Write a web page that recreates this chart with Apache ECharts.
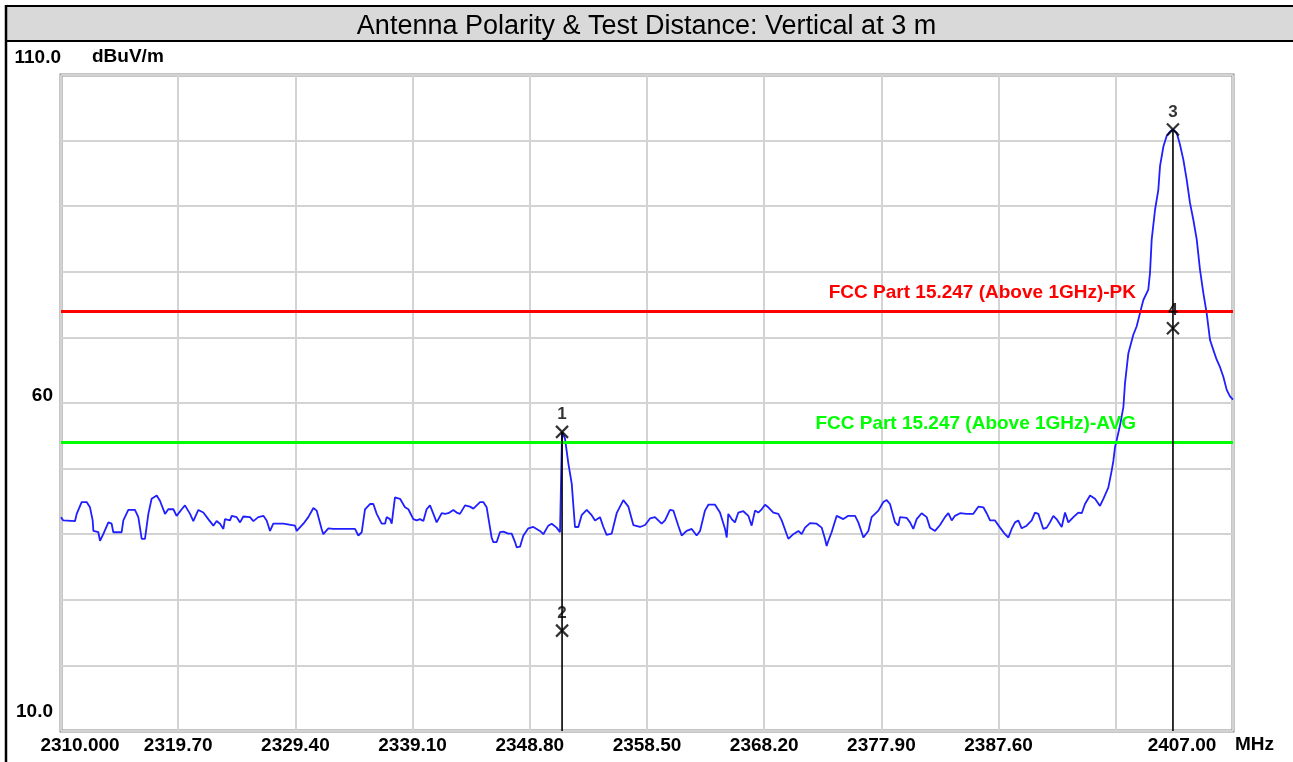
<!DOCTYPE html>
<html>
<head>
<meta charset="utf-8">
<title>Antenna Polarity & Test Distance: Vertical at 3 m</title>
<script src="https://cdn.jsdelivr.net/npm/echarts@6/dist/echarts.min.js"></script>
<style>
  html, body { margin: 0; padding: 0; background: #fff; }
  #chart { width: 1293px; height: 762px; }
</style>
</head>
<body>
<div id="chart"></div>
<script>
// scan data (MHz, dBuV/m)
const freqMHz = [
  2310.00, 2310.19, 2311.16, 2311.30, 2311.71, 2312.12, 2312.40, 2312.62, 2312.68, 2313.09,
  2313.23, 2313.50, 2313.92, 2314.19, 2314.33, 2315.02, 2315.16, 2315.57, 2316.12, 2316.40,
  2316.68, 2316.95, 2317.23, 2317.50, 2317.92, 2318.19, 2318.61, 2318.88, 2319.30, 2319.57,
  2319.99, 2320.26, 2320.68, 2320.95, 2321.37, 2321.78, 2322.19, 2322.61, 2322.88, 2323.16,
  2323.44, 2323.57, 2323.99, 2324.13, 2324.54, 2324.82, 2325.09, 2325.64, 2325.92, 2326.33,
  2326.75, 2327.02, 2327.30, 2327.57, 2328.40, 2329.37, 2329.51, 2330.06, 2330.47, 2330.89,
  2331.16, 2331.57, 2331.71, 2332.13, 2332.54, 2334.33, 2334.61, 2334.89, 2335.16, 2335.57,
  2335.85, 2336.13, 2336.54, 2336.82, 2336.95, 2337.23, 2337.37, 2337.64, 2338.06, 2338.47,
  2338.75, 2339.16, 2339.44, 2339.71, 2339.99, 2340.26, 2340.54, 2340.82, 2341.09, 2341.51,
  2341.78, 2342.06, 2342.47, 2342.75, 2343.02, 2343.44, 2343.85, 2344.13, 2344.68, 2344.95,
  2345.23, 2345.64, 2345.78, 2346.06, 2346.33, 2346.61, 2347.02, 2347.30, 2347.58, 2347.71,
  2347.99, 2348.27, 2348.68, 2349.09, 2349.64, 2349.92, 2350.33, 2350.61, 2351.02, 2351.30,
  2351.40, 2351.47, 2351.71, 2351.99, 2352.27, 2352.54, 2352.82, 2353.09, 2353.51, 2353.92,
  2354.20, 2354.61, 2354.89, 2355.16, 2355.58, 2355.99, 2356.54, 2356.96, 2357.37, 2357.92,
  2358.34, 2358.75, 2359.16, 2359.71, 2359.99, 2360.40, 2360.68, 2361.09, 2361.37, 2361.78,
  2362.20, 2362.61, 2362.89, 2363.30, 2363.58, 2364.13, 2364.54, 2364.96, 2365.10, 2365.23,
  2365.51, 2365.78, 2366.06, 2366.47, 2366.89, 2367.16, 2367.44, 2367.71, 2367.99, 2368.27,
  2368.54, 2368.96, 2369.37, 2369.65, 2370.06, 2370.20, 2370.61, 2371.03, 2371.30, 2371.58,
  2371.99, 2372.54, 2372.96, 2373.23, 2373.37, 2373.51, 2373.78, 2374.20, 2374.75, 2375.16,
  2375.72, 2375.99, 2376.41, 2376.54, 2376.82, 2377.09, 2377.65, 2378.06, 2378.34, 2378.61,
  2379.03, 2379.30, 2379.44, 2379.99, 2380.27, 2380.54, 2380.82, 2381.23, 2381.65, 2381.92,
  2382.34, 2382.75, 2383.16, 2383.44, 2383.72, 2383.99, 2384.41, 2384.96, 2385.51, 2385.92,
  2386.34, 2386.61, 2386.89, 2387.30, 2387.72, 2388.13, 2388.41, 2388.68, 2388.96, 2389.23,
  2389.51, 2389.92, 2390.34, 2390.61, 2390.89, 2391.30, 2391.58, 2391.85, 2392.13, 2392.40,
  2392.82, 2393.10, 2393.37, 2393.79, 2394.20, 2394.48, 2394.75, 2395.17, 2395.58, 2395.99,
  2396.27, 2396.68, 2396.82, 2396.96, 2397.10, 2397.24, 2397.37, 2397.65, 2397.93, 2398.06,
  2398.34, 2398.75, 2399.03, 2399.30, 2399.58, 2399.99, 2400.13, 2400.27, 2400.55, 2400.82,
  2400.96, 2401.24, 2401.51, 2401.79, 2402.03, 2402.34, 2402.61, 2402.89, 2403.17, 2403.44,
  2403.72, 2404.00, 2404.27, 2404.55, 2404.82, 2405.10, 2405.37, 2405.65, 2405.92, 2406.20,
  2406.48, 2406.75, 2407.00
]
const levelDbuv = [
  42.6, 42.1, 42.0, 43.1, 44.9, 44.9, 44.1, 42.1, 40.5, 40.3,
  39.0, 40.0, 41.8, 41.6, 40.3, 40.3, 42.1, 43.7, 43.7, 42.6,
  39.3, 39.3, 43.1, 45.4, 45.9, 45.1, 43.1, 43.8, 43.8, 42.8,
  43.8, 44.4, 43.1, 42.0, 43.7, 43.3, 42.3, 41.3, 42.0, 41.6,
  40.8, 42.3, 42.1, 42.8, 42.6, 41.8, 42.7, 42.6, 42.0, 42.6,
  42.8, 42.1, 40.5, 41.6, 41.6, 41.3, 40.5, 41.6, 42.6, 44.0,
  43.6, 40.8, 40.0, 40.9, 40.8, 40.8, 39.8, 40.3, 43.8, 44.6,
  44.6, 43.1, 41.6, 41.6, 42.6, 42.3, 41.6, 45.6, 45.4, 44.1,
  43.8, 42.3, 42.1, 42.3, 42.0, 43.8, 44.4, 43.1, 41.8, 43.2,
  43.1, 43.2, 43.7, 43.3, 43.1, 44.4, 44.2, 43.9, 44.9, 44.9,
  44.1, 39.5, 38.8, 38.8, 40.3, 40.4, 40.1, 40.1, 38.8, 38.0,
  38.1, 39.8, 40.9, 41.1, 40.5, 40.0, 41.3, 41.6, 41.0, 40.3,
  40.4, 55.6, 54.6, 50.8, 47.7, 41.1, 41.1, 42.9, 43.7, 42.9,
  42.1, 42.6, 41.1, 39.9, 40.1, 43.2, 45.2, 44.2, 41.4, 41.1,
  41.4, 42.4, 42.6, 41.6, 42.1, 43.7, 43.6, 41.3, 39.8, 40.5,
  40.8, 39.8, 40.5, 43.6, 44.5, 44.5, 43.3, 40.8, 39.5, 43.1,
  42.3, 41.8, 43.3, 43.5, 42.8, 41.3, 43.6, 43.3, 43.8, 44.5,
  44.1, 43.3, 43.1, 42.1, 40.0, 39.3, 40.0, 40.5, 40.0, 41.0,
  41.7, 41.6, 41.0, 39.3, 38.2, 39.0, 40.3, 42.8, 42.3, 42.8,
  42.8, 41.8, 39.5, 39.3, 40.5, 42.6, 43.6, 44.9, 45.2, 44.6,
  41.8, 41.3, 42.6, 42.5, 41.8, 40.8, 42.3, 43.2, 42.6, 41.0,
  40.5, 41.4, 42.6, 43.2, 42.1, 42.8, 43.2, 43.1, 43.1, 44.2,
  44.1, 43.2, 42.1, 42.1, 41.0, 40.0, 39.5, 40.8, 41.8, 42.1,
  40.9, 41.3, 42.1, 43.3, 43.1, 40.8, 41.0, 41.8, 42.8, 42.3,
  41.1, 43.3, 41.8, 42.6, 43.3, 43.2, 44.6, 45.9, 45.4, 44.3,
  45.4, 47.1, 48.4, 49.7, 51.2, 53.3, 54.3, 56.6, 59.4, 63.0,
  67.6, 70.4, 71.7, 73.7, 75.7, 77.3, 79.8, 84.9, 89.5, 92.5,
  96.1, 99.1, 100.7, 101.4, 101.7, 101.2, 99.4, 97.1, 94.0, 90.5,
  87.9, 84.9, 80.3, 76.7, 73.7, 69.6, 68.1, 66.6, 65.5, 64.0,
  62.0, 61.0, 60.5
]

const xTicks = [2310, 2319.7, 2329.4, 2339.1, 2348.8, 2358.5, 2368.2, 2377.9, 2387.6, 2397.3, 2407]
const xTickLabels = ['2310.000', '2319.70', '2329.40', '2339.10', '2348.80', '2358.50',
  '2368.20', '2377.90', '2387.60', '', '2407.00']
const yTicks = [10, 60, 110]
const yTickLabels = ['10.0', '60', '110.0']

const limitNames = ['FCC Part 15.247 (Above 1GHz)-PK', 'FCC Part 15.247 (Above 1GHz)-AVG']
const limitValues = [74, 54]

const markerIds = ['1', '2', '3', '4']
const markerFreq = [2351.47, 2351.47, 2402.03, 2402.03]
const markerLevel = [55.6, 25.3, 101.7, 71.4]

const labelFont = '"Liberation Sans", Arial, sans-serif'
const limitColors = { 0: '#ff0000', 1: '#00ff00' }

const chart = echarts.init(document.getElementById('chart'))

function xLabel(v) {
  const i = xTicks.findIndex(t => Math.abs(t - v) < 0.01)
  if (i < 0 || !xTickLabels[i]) return ''
  if (i === 0) return '{first|' + xTickLabels[i] + '}'
  if (i === xTicks.length - 1) return '{last|' + xTickLabels[i] + '}'
  return xTickLabels[i]
}

function yLabel(v) {
  const i = yTicks.findIndex(t => Math.abs(t - v) < 0.01)
  if (i < 0) return ''
  return '{y' + i + '|' + yTickLabels[i] + '}'
}

// one vertical stem per marker frequency, from highest marker down to the floor
const stems = []
markerFreq.forEach((f, i) => {
  const s = stems.find(x => x.f === f)
  if (s) s.top = Math.max(s.top, markerLevel[i])
  else stems.push({ f: f, top: markerLevel[i] })
})

const limitSeries = limitValues.map((v, i) => ({
  type: 'line',
  data: [],
  z: 2,
  silent: true,
  markLine: {
    silent: true,
    symbol: 'none',
    animation: false,
    lineStyle: { color: limitColors[i], width: 3, type: 'solid' },
    label: {
      show: true,
      position: 'insideEndTop',
      formatter: limitNames[i],
      color: limitColors[i],
      fontFamily: labelFont,
      fontWeight: 'bold',
      fontSize: 19,
      distance: [97, 9]
    },
    data: [{ yAxis: v }]
  }
}))

const stemSeries = stems.map(s => ({
  type: 'line',
  data: [[s.f, s.top], [s.f, 10]],
  symbol: 'none',
  silent: true,
  z: 5,
  lineStyle: { color: '#000', width: 1.6 }
}))

const option = {
  animation: false,
  title: {
    text: 'Antenna Polarity & Test Distance: Vertical at 3 m',
    left: 'center',
    top: 12,
    padding: 0,
    z: 10,
    textStyle: { fontFamily: labelFont, fontSize: 27, lineHeight: 30, fontWeight: 'normal', color: '#000' }
  },
  graphic: [
    {
      type: 'rect',
      z: 0,
      shape: { x: 6, y: 6, width: 1300, height: 35 },
      style: { fill: '#d9d9d9', stroke: '#000', lineWidth: 2 }
    },
    {
      type: 'line',
      z: 0,
      shape: { x1: 6, y1: 5, x2: 6, y2: 762 },
      style: { stroke: '#000', lineWidth: 2.5 }
    }
  ],
  grid: {
    left: 61,
    right: 60,
    top: 75,
    bottom: 31,
    show: true,
    backgroundColor: 'transparent',
    borderColor: '#8c8c8c',
    borderWidth: 3
  },
  xAxis: {
    type: 'value',
    min: 2310,
    max: 2407,
    interval: 9.7,
    name: 'MHz',
    nameLocation: 'end',
    nameGap: 2,
    nameTextStyle: {
      fontFamily: labelFont, fontWeight: 'bold', fontSize: 19, color: '#000',
      align: 'left', verticalAlign: 'top', lineHeight: 28
    },
    axisLine: { show: false },
    axisTick: { show: false, customValues: xTicks },
    splitLine: { show: true, lineStyle: { color: '#d3d3d3', width: 2 } },
    axisLabel: {
      customValues: xTicks,
      showMinLabel: true,
      showMaxLabel: true,
      formatter: xLabel,
      margin: 5,
      color: '#000',
      fontFamily: labelFont,
      fontWeight: 'bold',
      fontSize: 19,
      rich: {
        first: { fontFamily: labelFont, fontWeight: 'bold', fontSize: 19, color: '#000', padding: [0, 0, 0, 38] },
        last: { fontFamily: labelFont, fontWeight: 'bold', fontSize: 19, color: '#000', padding: [0, 102, 0, 0] }
      }
    }
  },
  yAxis: {
    type: 'value',
    min: 10,
    max: 110,
    interval: 10,
    name: 'dBuV/m',
    nameLocation: 'end',
    nameGap: 9,
    nameTextStyle: {
      fontFamily: labelFont, fontWeight: 'bold', fontSize: 19, color: '#000',
      align: 'left', verticalAlign: 'bottom', padding: [0, 0, 0, 31]
    },
    axisLine: { show: false },
    axisTick: { show: false },
    splitLine: { show: true, lineStyle: { color: '#d3d3d3', width: 2 } },
    axisLabel: {
      customValues: yTicks,
      showMinLabel: true,
      showMaxLabel: true,
      formatter: yLabel,
      margin: 0,
      align: 'right',
      verticalAlign: 'bottom',
      color: '#000',
      fontFamily: labelFont,
      fontWeight: 'bold',
      fontSize: 19,
      rich: {
        y0: { fontFamily: labelFont, fontWeight: 'bold', fontSize: 19, color: '#000', padding: [0, 8, 10, 0] },
        y1: { fontFamily: labelFont, fontWeight: 'bold', fontSize: 19, color: '#000', lineHeight: 14, padding: [0, 8, 0, 0] },
        y2: { fontFamily: labelFont, fontWeight: 'bold', fontSize: 19, color: '#000', padding: [0, 0, 8, 0] }
      }
    }
  },
  series: [
    ...limitSeries,
    {
      type: 'line',
      data: freqMHz.map((f, i) => [f, levelDbuv[i]]),
      symbol: 'none',
      silent: true,
      z: 3,
      lineStyle: { color: '#1f1fff', width: 1.8 }
    },
    ...stemSeries,
    {
      type: 'scatter',
      data: markerFreq.map((f, i) => [f, markerLevel[i]]),
      symbol: 'path://M0,0L10,10M10,0L0,10',
      symbolSize: 12,
      silent: true,
      z: 6,
      itemStyle: { color: 'rgba(0,0,0,0)', borderColor: '#000', borderWidth: 2.2 },
      label: {
        show: true,
        position: 'top',
        distance: 2,
        formatter: p => markerIds[p.dataIndex],
        color: '#000',
        fontFamily: labelFont,
        fontWeight: 'bold',
        fontSize: 17
      }
    }
  ]
}

chart.setOption(option)
</script>
</body>
</html>
